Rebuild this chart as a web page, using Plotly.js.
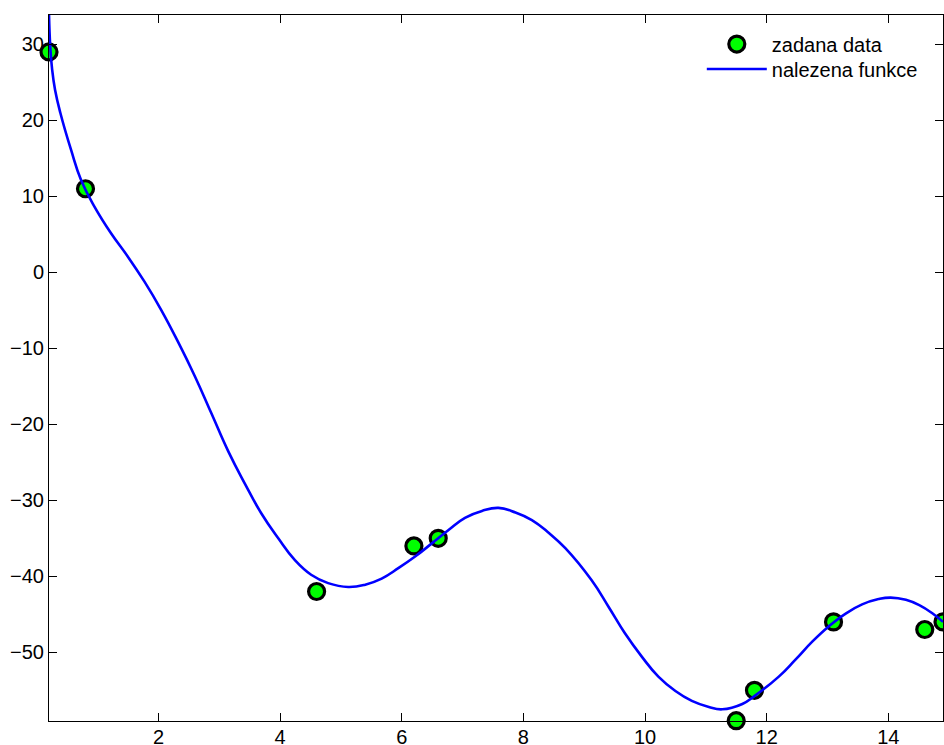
<!DOCTYPE html>
<html>
<head>
<meta charset="utf-8">
<script src="https://cdn.plot.ly/plotly-3.0.1.min.js"></script>
<style>
  html, body { margin: 0; padding: 0; background: #fff; }
  #plot { width: 944px; height: 745px; }
</style>
</head>
<body>
<div id="plot"></div>
<script>
// Measured data points
const dataX = [0.2, 0.8, 4.6, 6.2, 6.6, 11.5, 11.8, 13.1, 14.6, 14.9];
const dataY = [29, 11, -42, -36, -35, -59, -55, -46, -47, -46];

// Fitted function, sampled along x
const fitX = [0.2, 0.22, 0.25, 0.3, 0.386, 0.563, 0.727, 0.947, 1.22, 1.497, 1.77, 2.046, 2.32,
              2.6, 2.87, 3.15, 3.42, 3.69, 3.97, 4.24, 4.51, 4.79, 5.12, 5.4, 5.67, 5.95,
              6.22, 6.49, 6.77, 7.04, 7.32, 7.59, 7.87, 8.14, 8.42, 8.69, 9.12, 9.4, 9.67,
              9.95, 10.22, 10.5, 10.77, 11.05, 11.27, 11.6, 11.81, 12.2, 12.47, 12.75, 13.02,
              13.3, 13.57, 13.84, 14.04, 14.29, 14.51, 14.73, 14.9];
const fitY = [33.9, 29.8, 26.8, 24.0, 21.0, 16.1, 12.15, 8.64, 5.13, 2.06, -1.23, -4.96, -9.12,
              -13.7, -18.55, -23.6, -27.8, -31.7, -35.0, -37.85, -39.8, -40.9, -41.4, -41.1, -40.3, -38.9,
              -37.4, -35.7, -33.9, -32.3, -31.4, -31.0, -31.6, -32.6, -34.3, -36.3, -40.5, -44.0, -47.5,
              -50.6, -53.2, -55.1, -56.4, -57.2, -57.5, -56.8, -55.7, -53.2, -51.0, -48.6, -46.6,
              -44.9, -43.7, -43.0, -42.8, -43.1, -43.8, -44.9, -46.0];

const xTicks = [2, 4, 6, 8, 10, 12, 14];
const yTicks = [-50, -40, -30, -20, -10, 0, 10, 20, 30];

const legendNames = ['zadana data', 'nalezena funkce'];

const font = { family: 'Liberation Sans, Arial, Helvetica, sans-serif', size: 20, color: '#000' };

const traces = [
  {
    x: dataX, y: dataY,
    type: 'scatter', mode: 'markers',
    name: legendNames[0],
    legend: 'legend',
    marker: { color: '#00ff00', size: 16, line: { color: '#000', width: 3.2 } },
    cliponaxis: false
  },
  {
    x: fitX, y: fitY,
    type: 'scatter', mode: 'lines',
    name: legendNames[1],
    legend: 'legend2',
    line: { color: '#0000ff', width: 2.6, shape: 'spline', smoothing: 1.3 }
  }
];

const axisCommon = {
  showgrid: false, zeroline: false,
  showline: true, linecolor: '#000', linewidth: 1,
  mirror: 'ticks', ticks: 'inside', ticklen: 8, tickwidth: 1, tickcolor: '#000',
  tickfont: font
};

const legendCommon = {
  x: 0.7302, xanchor: 'left', yanchor: 'top',
  bgcolor: 'rgba(255,255,255,0)', borderwidth: 0,
  itemwidth: 60, font: font
};

const layout = {
  width: 944, height: 745,
  margin: { l: 49, r: 1, t: 15, b: 24 },
  paper_bgcolor: '#fff', plot_bgcolor: '#fff',
  font: font,
  showlegend: true,
  legend: Object.assign({}, legendCommon, { y: 0.9865 }),
  legend2: Object.assign({}, legendCommon, { y: 0.9511 }),
  xaxis: Object.assign({}, axisCommon, {
    range: [0.2, 14.9], tickmode: 'array', tickvals: xTicks,
    ticklabelstandoff: -2
  }),
  yaxis: Object.assign({}, axisCommon, {
    range: [-59.04, 33.86], tickmode: 'array', tickvals: yTicks
  })
};

Plotly.newPlot('plot', traces, layout, { displayModeBar: false, staticPlot: true });
</script>
</body>
</html>
